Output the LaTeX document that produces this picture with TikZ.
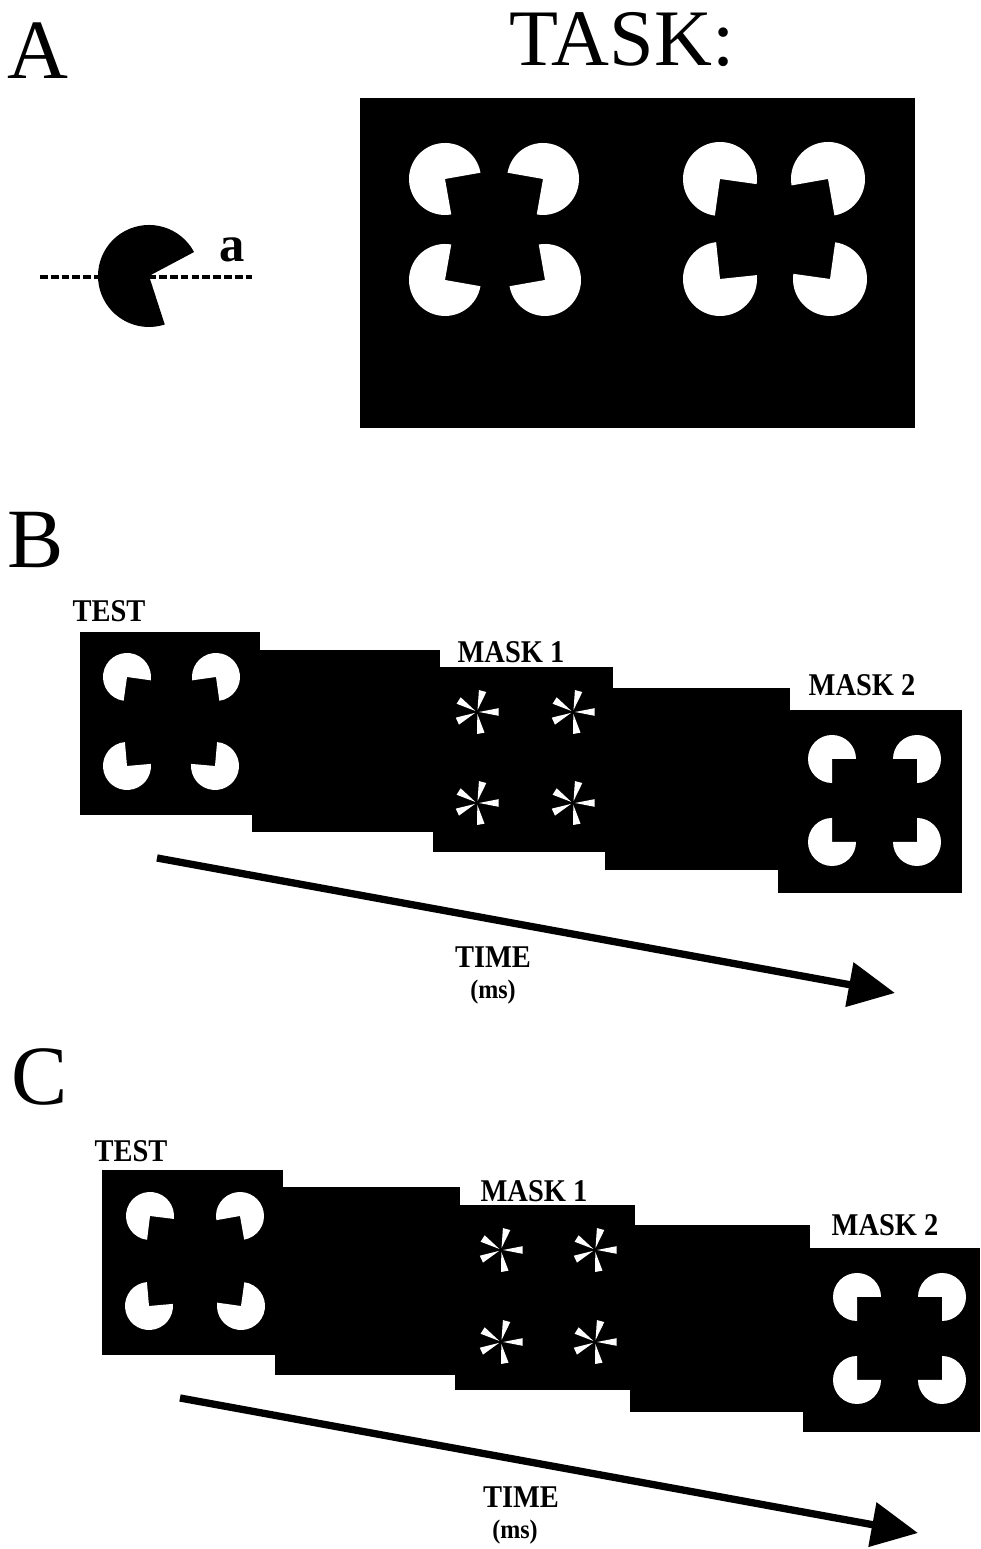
\documentclass[tikz,border=0pt]{standalone}
\usepackage{fontspec}
\setmainfont{Liberation Serif}
\newfontfamily\framefont[FakeStretch=0.9]{Liberation Serif}
\usetikzlibrary{arrows.meta}

% white inducer at (x,y), radius, start angle of the cut quadrant
\newcommand{\inducer}[4]{\fill[white] (#1,#2) -- ++(#4+90:#3) arc[start angle=#4+90, end angle=#4+360, radius=#3] -- cycle;}
% star of five white wedges at (x,y)
\newcommand{\spokes}[2]{\begin{scope}[shift={(#1,#2)}]
  \foreach \s in {0,75,148,205,280}
    \fill[white] (\s:2) -- (\s+10:22) -- (\s-10:22) -- cycle;
\end{scope}}

\begin{document}
\begin{tikzpicture}[x=0.025cm, y=0.025cm,
  panel/.style={inner sep=0, font=\fontsize{60}{60}\selectfont},
  framelabel/.style={inner sep=0, font=\framefont\fontsize{22.5}{22.5}\selectfont\bfseries},
  timearrow/.style={line width=5.2pt, -{Triangle[length=33pt, width=31pt]}}]
  \useasboundingbox (0,0) rectangle (980,1549);

  % panel A
  \node[panel] (lblA) at (38,1498) {A};
  \node[inner sep=0, font=\fontsize{57}{57}\selectfont] (task) at (622,1509) {TASK:};
  \draw[line width=2.2pt, dash pattern=on 5.5pt off 2.2pt] (40,1272) -- (252,1272);
  \fill (149,1273) -- ++(28:51) arc[start angle=28, end angle=288, radius=51] -- cycle;
  \node[inner sep=0, font=\fontsize{36}{36}\selectfont\bfseries] (ang) at (232,1299) {a};

  \fill (360,1121) rectangle (915,1451);
  \inducer{445}{1370}{36}{-80}
  \inducer{543}{1370}{36}{170}
  \inducer{445}{1269}{36}{-10}
  \inducer{545}{1269}{36}{100}
  \inducer{720}{1370}{37}{-98}
  \inducer{828}{1370}{37}{190}
  \inducer{720}{1270}{37}{6}
  \inducer{830}{1270}{37}{82}

  % panel B
  \node[panel] (lblB) at (36,1009) {B};
  \fill (80,734) rectangle (260,917);
  \fill (252,717) rectangle (440,899);
  \fill (433,697) rectangle (613,882);
  \fill (605,679) rectangle (790,861);
  \fill (778,656) rectangle (962,839);
  \inducer{127}{872}{24}{-98}
  \inducer{216}{872}{24}{188}
  \inducer{127}{783}{24}{5}
  \inducer{215}{783}{24}{85}
  \spokes{477}{837}
  \spokes{573}{837}
  \spokes{477}{746}
  \spokes{573}{746}
  \inducer{832}{790}{24}{-90}
  \inducer{917}{790}{24}{180}
  \inducer{832}{707}{24}{0}
  \inducer{917}{707}{24}{90}
  \node[framelabel] (testB) at (109,938) {TEST};
  \node[framelabel] (maskB1) at (511,897) {MASK 1};
  \node[framelabel] (maskB2) at (862,864) {MASK 2};
  \coordinate (tB0) at (157,691);
  \coordinate (tB1) at (895,556);
  \draw[timearrow] (tB0) -- (tB1);
  \node[framelabel] (timeB) at (493,592) {TIME};
  \node[framelabel, font=\framefont\fontsize{19}{19}\selectfont\bfseries] (msB) at (493,557) {(ms)};

  % panel C
  \node[panel] (lblC) at (40,472) {C};
  \fill (102,194) rectangle (283,379);
  \fill (275,174) rectangle (460,362);
  \fill (455,159) rectangle (635,344);
  \fill (630,137) rectangle (810,324);
  \fill (803,117) rectangle (980,301);
  \inducer{150}{333}{24}{-97}
  \inducer{240}{333}{24}{190}
  \inducer{149}{243}{24}{5}
  \inducer{241}{243}{24}{82}
  \spokes{501}{299}
  \spokes{595}{299}
  \spokes{501}{207}
  \spokes{595}{207}
  \inducer{857}{252}{24}{-90}
  \inducer{942}{252}{24}{180}
  \inducer{857}{169}{24}{0}
  \inducer{942}{169}{24}{90}
  \node[framelabel] (testC) at (131,398) {TEST};
  \node[framelabel] (maskC1) at (534,358) {MASK 1};
  \node[framelabel] (maskC2) at (885,324) {MASK 2};
  \coordinate (tC0) at (180,151);
  \coordinate (tC1) at (918,16);
  \draw[timearrow] (tC0) -- (tC1);
  \node[framelabel] (timeC) at (521,52) {TIME};
  \node[framelabel, font=\framefont\fontsize{19}{19}\selectfont\bfseries] (msC) at (515,17) {(ms)};
\end{tikzpicture}
\end{document}
